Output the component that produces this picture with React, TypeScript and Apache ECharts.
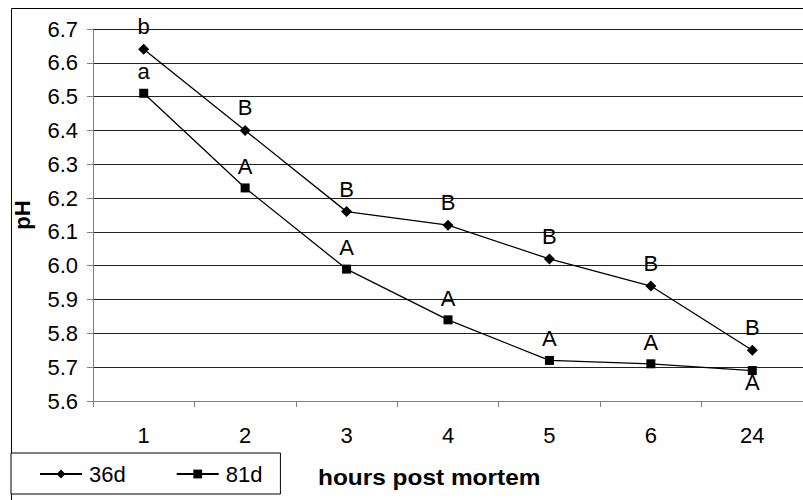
import React, { useEffect, useRef } from "react";
import * as echarts from "echarts";

const categories = ["1", "2", "3", "4", "5", "6", "24"];
const series36d = [6.64, 6.4, 6.16, 6.12, 6.02, 5.94, 5.75];
const series81d = [6.51, 6.23, 5.99, 5.84, 5.72, 5.71, 5.69];
const letters36d = ["b", "B", "B", "B", "B", "B", "B"];
const letters81d = ["a", "A", "A", "A", "A", "A", "A"];
const yTicks = { min: 5.6, max: 6.7, step: 0.1 };

const FONT = "'Liberation Sans', Arial, sans-serif";

export default function App() {
  const ref = useRef<HTMLDivElement>(null);
  useEffect(() => {
    if (!ref.current) return;
    const chart = echarts.init(ref.current, null, { renderer: "svg" });
    const labelBase = {
      show: true,
      position: "top",
      distance: 6,
      fontSize: 22,
      fontFamily: FONT,
      color: "#000",
    };
    chart.setOption({
      animation: false,
      backgroundColor: "#fff",
      textStyle: { fontFamily: FONT },
      grid: { left: 93, top: 29, width: 723, height: 372, containLabel: false },
      xAxis: {
        type: "category",
        data: categories,
        boundaryGap: true,
        axisLine: { lineStyle: { color: "#808080", width: 1 } },
        axisTick: { show: true, length: 6, lineStyle: { color: "#808080" } },
        axisLabel: { fontSize: 22, color: "#000", fontFamily: FONT, margin: 23 },
        splitLine: { show: false },
      },
      yAxis: {
        type: "value",
        min: yTicks.min,
        max: yTicks.max,
        interval: yTicks.step,
        name: "pH",
        nameLocation: "middle",
        nameGap: 60,
        nameTextStyle: { fontSize: 22, fontWeight: "bold", color: "#000", fontFamily: FONT },
        axisLine: { show: true, lineStyle: { color: "#808080", width: 1 } },
        axisTick: { show: true, length: 6, lineStyle: { color: "#808080" } },
        axisLabel: {
          fontSize: 22,
          color: "#000",
          fontFamily: FONT,
          margin: 15,
          formatter: (v: number) => v.toFixed(1),
        },
        splitLine: { show: true, lineStyle: { color: "#222", width: 1 } },
      },
      legend: {
        left: 11,
        top: 453,
        padding: [10, 18, 9, 28],
        itemGap: 50,
        itemWidth: 42,
        itemHeight: 11,
        borderColor: "#000",
        borderWidth: 1,
        backgroundColor: "#fff",
        textStyle: { fontSize: 22, color: "#000", fontFamily: FONT, padding: [0, 0, 0, 2] },
        data: ["36d", "81d"],
      },
      series: [
        {
          name: "36d",
          type: "line",
          data: series36d.map((v, i) => ({
            value: v,
            label: { ...labelBase, formatter: letters36d[i] },
          })),
          symbol: "diamond",
          symbolSize: 11,
          lineStyle: { color: "#000", width: 1.3 },
          itemStyle: { color: "#000" },
        },
        {
          name: "81d",
          type: "line",
          data: series81d.map((v, i) => ({
            value: v,
            label:
              i === series81d.length - 1
                ? { ...labelBase, position: "bottom", distance: 0, offset: [0, -4], formatter: letters81d[i] }
                : { ...labelBase, formatter: letters81d[i] },
          })),
          symbol: "rect",
          symbolSize: 9,
          lineStyle: { color: "#000", width: 1.3 },
          itemStyle: { color: "#000" },
        },
      ],
      graphic: [
        {
          type: "rect",
          silent: true,
          z: -1,
          shape: { x: 11.5, y: 8.5, width: 900, height: 700 },
          style: { fill: "none", stroke: "#000", lineWidth: 1 },
        },
        {
          type: "text",
          x: 318,
          y: 466,
          scaleX: 1.11,
          style: {
            text: "hours post mortem",
            fontSize: 22,
            fontWeight: "bold",
            fontFamily: FONT,
            fill: "#000",
          },
        },
      ],
    });
    return () => chart.dispose();
  }, []);
  return <div ref={ref} style={{ width: 803, height: 500, position: "absolute", left: 0, top: 0 }} />;
}
